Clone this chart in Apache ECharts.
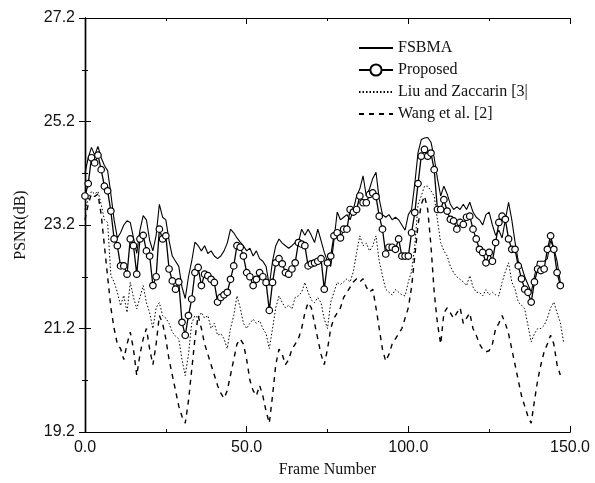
<!DOCTYPE html>
<html><head><meta charset="utf-8">
<script src="https://cdn.jsdelivr.net/npm/echarts@6/dist/echarts.min.js"></script>
<style>html,body{margin:0;padding:0;background:#fff}#c{width:595px;height:483px}</style>
</head><body><div id="c"></div>
<script>
// ---- data (PSNR in dB, one value per frame starting at frame 0) ----
const seriesNames = ['FSBMA', 'Proposed', 'Liu and Zaccarin [3|', 'Wang et al. [2]'];
const fsbma = [24.2,24.5,24.7,24.55,24.72,24.5,24.35,24.25,23.8,23.3,22.95,23.05,23.2,23.28,23.25,22.95,22.65,23.1,23.38,23.3,
22.9,22.7,23.0,23.6,23.35,23.3,22.9,22.6,22.5,22.4,22.0,21.78,22.2,22.5,22.87,22.8,22.7,22.8,22.65,22.7,
22.6,22.55,22.6,22.7,22.85,23.12,23.05,22.95,22.87,22.8,22.7,22.75,22.6,22.7,22.55,22.5,22.4,22.03,22.5,22.8,
22.93,22.85,22.8,22.75,22.8,22.86,22.86,23.12,23.0,23.12,23.0,22.86,23.12,22.9,22.67,22.5,22.4,22.9,23.45,23.3,
23.35,23.4,23.3,23.5,23.76,23.9,24.15,23.76,23.9,24.1,24.22,23.7,23.4,23.35,23.4,23.3,23.35,23.3,23.2,23.1,
23.4,23.5,24.0,24.6,24.85,24.88,24.89,24.8,24.5,24.1,23.76,23.95,23.8,23.6,23.5,23.55,23.5,23.6,23.5,23.64,
23.45,23.35,23.3,23.2,23.4,23.45,23.2,23.0,23.1,22.95,23.3,23.64,23.3,22.87,22.5,22.4,22.2,22.05,21.9,22.2,
22.5,22.5,22.5,22.55,22.9,22.75,22.5,22.1];
const proposed = [23.76,24.0,24.5,24.4,24.55,24.27,23.95,23.86,23.47,22.93,22.8,22.41,22.41,22.25,22.93,22.8,22.25,22.93,23.0,22.7,
22.6,22.03,22.2,23.12,22.93,22.99,22.35,22.12,21.96,22.1,21.32,21.07,21.45,21.77,22.28,22.38,22.03,22.25,22.22,22.15,
22.09,21.71,21.8,21.85,21.9,22.15,22.41,22.8,22.77,22.6,22.28,22.2,22.03,22.15,22.28,22.2,22.09,21.55,22.09,22.47,
22.55,22.45,22.28,22.25,22.35,22.47,22.86,22.83,22.8,22.41,22.45,22.47,22.5,22.55,21.96,22.47,22.6,22.99,23.05,22.95,
23.12,23.12,23.5,23.45,23.5,23.76,23.63,23.63,23.79,23.82,23.75,23.37,23.12,22.64,22.77,22.77,22.73,22.93,22.6,22.6,
22.6,23.05,23.44,24.0,24.53,24.66,24.53,24.59,24.27,23.5,23.5,23.69,23.47,23.31,23.28,23.12,23.25,23.21,23.35,23.37,
23.12,22.93,22.73,22.67,22.47,22.67,22.5,22.86,23.25,23.37,23.31,22.93,22.73,22.73,22.41,22.16,21.96,21.9,21.71,22.1,
22.35,22.32,22.35,22.73,22.99,22.73,22.28,22.03];
const liu = [23.5,23.7,23.85,23.8,23.85,23.6,23.3,23.25,22.22,22.1,21.9,21.64,21.84,21.51,22.09,21.8,21.58,21.8,22.03,21.7,
21.5,21.2,21.6,21.7,21.45,21.4,21.3,21.13,21.05,21.0,20.6,20.29,20.7,21.3,21.45,21.4,21.51,21.4,21.45,21.2,
21.3,21.07,21.1,21.0,20.81,21.2,21.45,21.83,21.6,21.3,21.2,21.3,21.38,21.3,21.35,21.2,21.1,20.81,21.2,21.6,
21.83,21.7,21.6,21.65,21.58,21.8,21.83,21.9,22.09,21.9,21.75,21.7,21.8,21.7,21.38,21.2,21.71,21.9,22.09,22.05,
22.1,22.16,22.1,22.3,22.67,22.99,22.8,22.85,22.7,22.8,22.99,22.5,22.22,21.96,21.9,21.85,21.95,21.9,21.85,21.83,
22.1,22.3,22.8,23.6,23.76,23.95,23.95,23.86,23.76,23.3,22.86,22.7,22.6,22.4,22.28,22.2,22.15,22.1,22.03,22.22,
22.0,21.9,21.9,21.83,21.95,21.85,21.9,21.85,21.83,22.09,22.3,22.47,22.1,21.96,21.71,21.65,21.58,21.26,20.94,21.1,
21.2,21.2,21.26,21.4,21.6,21.71,21.5,21.32,20.94];
const wang = [23.3,23.6,23.8,23.75,23.8,23.4,22.8,22.2,21.6,21.2,20.9,20.81,20.6,20.9,21.13,20.8,20.29,20.7,21.0,21.2,
20.8,20.5,20.9,21.45,21.3,21.0,20.6,20.3,20.0,19.7,19.5,19.37,19.8,20.4,21.0,21.45,21.2,20.9,20.7,20.5,
20.3,20.1,19.95,19.85,20.0,20.3,20.6,20.9,21.0,20.9,20.6,20.2,20.0,19.9,20.1,19.9,19.6,19.37,19.9,20.5,
20.8,20.7,20.5,20.6,20.8,20.9,21.0,21.2,21.5,21.7,21.6,21.3,21.0,20.7,20.5,20.8,21.2,21.4,21.5,21.6,
21.8,21.9,22.0,22.1,22.16,22.1,22.16,22.0,21.9,21.96,21.6,21.2,20.8,20.57,20.7,20.9,21.0,21.1,21.2,21.4,
21.6,22.0,22.6,23.2,23.6,23.76,23.5,22.8,21.9,21.3,20.9,21.5,21.6,21.5,21.4,21.5,21.6,21.3,21.4,21.5,
21.2,21.07,20.9,20.8,20.75,20.77,20.9,21.2,21.3,21.45,21.3,21.1,20.8,20.5,20.2,19.9,19.7,19.5,19.37,19.8,
20.2,20.5,20.75,20.9,21.07,20.9,20.5,20.3];
// ---- tick labels ----
const xMajor = [0, 50, 100, 150];
const xMinor = [25, 75, 125];
const yMajor = [19.2, 21.2, 23.2, 25.2, 27.2];
const yMinor = [20.2, 22.2, 24.2, 26.2];

const pairs = a => a.map((v, i) => [i, v]);
const chart = echarts.init(document.getElementById('c'), null, {renderer: 'canvas'});
const axisLine = {show: true, lineStyle: {color: '#000', width: 1.2}};
const labelFont = {fontFamily: 'Liberation Sans, Arial, sans-serif', fontSize: 16, color: '#111'};
const nameFont = {fontFamily: 'Liberation Serif, Times New Roman, serif', fontSize: 16, color: '#111'};

function xAx(pos, ticks, len, showLabel, name) {
  return {
    type: 'value', position: pos, min: 0, max: 150,
    axisLine: axisLine,
    axisTick: {show: true, inside: true, length: len, customValues: ticks, lineStyle: {color: '#000', width: 1}},
    axisLabel: showLabel ? Object.assign({show: true, customValues: xMajor, margin: 8, formatter: v => v.toFixed(1)}, labelFont) : {show: false},
    splitLine: {show: false},
    name: name || '', nameLocation: 'middle', nameGap: 30, nameTextStyle: nameFont
  };
}
function yAx(pos, ticks, len, showLabel, name) {
  return {
    type: 'value', position: pos, min: 19.2, max: 27.2,
    axisLine: axisLine,
    axisTick: {show: true, inside: true, length: len, customValues: ticks, lineStyle: {color: '#000', width: 1}},
    axisLabel: showLabel ? Object.assign({show: true, customValues: yMajor, margin: 10, formatter: v => v.toFixed(1)}, labelFont) : {show: false},
    splitLine: {show: false},
    name: name || '', nameLocation: 'middle', nameGap: 56, nameTextStyle: nameFont
  };
}
const noSym = {color: 'rgba(0,0,0,0)', borderColor: 'rgba(0,0,0,0)', borderWidth: 0};

const option = {
  backgroundColor: '#fff',
  animation: false,
  grid: {left: 85, right: 25, top: 18, bottom: 50, containLabel: false},
  xAxis: [
    xAx('bottom', xMajor, 6, true, 'Frame Number'),
    xAx('top', xMajor, 6, false),
    xAx('bottom', xMinor, 3, false),
    xAx('top', xMinor, 3, false)
  ],
  yAxis: [
    yAx('left', yMajor, 6, true, 'PSNR(dB)'),
    yAx('right', yMajor, 6, false),
    yAx('left', yMinor, 3, false),
    yAx('right', yMinor, 3, false)
  ],
  legend: {
    orient: 'vertical', left: 353, top: 35, itemWidth: 34, itemHeight: 14, itemGap: 6,
    textStyle: {fontFamily: 'Liberation Serif, Times New Roman, serif', fontSize: 16, color: '#111'},
    data: [
      {name: seriesNames[0], itemStyle: noSym},
      {name: seriesNames[1]},
      {name: seriesNames[2], itemStyle: noSym},
      {name: seriesNames[3], itemStyle: noSym}
    ]
  },
  series: [
    {name: seriesNames[0], type: 'line', data: pairs(fsbma), showSymbol: false, symbol: 'none',
     lineStyle: {color: '#000', width: 1.1}, itemStyle: {color: '#000'}},
    {name: seriesNames[1], type: 'line', data: pairs(proposed), symbol: 'circle', symbolSize: 6.5, showSymbol: true,
     lineStyle: {color: '#000', width: 1.3}, itemStyle: {color: '#fff', borderColor: '#000', borderWidth: 1.2}},
    {name: seriesNames[2], type: 'line', data: pairs(liu), symbol: 'none',
     lineStyle: {color: '#000', width: 1, type: [1.5, 2]}, itemStyle: {color: '#000'}},
    {name: seriesNames[3], type: 'line', data: pairs(wang), symbol: 'none',
     lineStyle: {color: '#000', width: 1.4, type: [5, 5]}, itemStyle: {color: '#000'}}
  ]
};
chart.setOption(option);
</script></body></html>
